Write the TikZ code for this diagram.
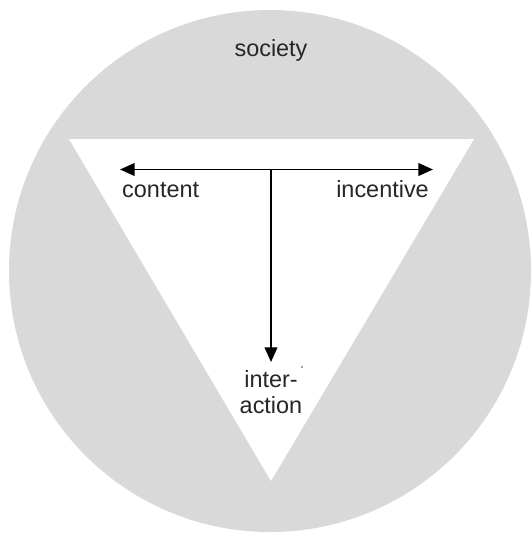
\documentclass[tikz,border=0pt]{standalone}
\usepackage{fontspec}
\setmainfont{Liberation Sans}
\usetikzlibrary{arrows.meta,positioning}

\begin{document}
\begin{tikzpicture}[
    x=0.03cm, y=-0.03cm,
    field/.style={fill=gray!30, draw=none},
    word/.style={font=\fontsize{20}{22.5}\selectfont, text=black!85, inner sep=0pt},
    link/.style={-{Triangle[length=4.4mm, width=3.8mm]}, line width=1.7pt},
  ]
  \useasboundingbox (0,0) rectangle (531,533);

  % Society circle with the inner triangle
  \fill[field] (270,271) circle (261);
  \fill[white] (69,139) -- (474,139) -- (271,481) -- cycle;

  % Arrow ends
  \coordinate (hub)   at (271,169.5);
  \coordinate (west)  at (120,169.5);
  \coordinate (east)  at (433,169.5);
  \coordinate (south) at (271,362);

  % Arrows
  \draw[link] (hub) -- (west);
  \draw[link] (hub) -- (east);
  \draw[link] (hub) -- (south);

  % Labels
  \node[word, anchor=base]      (society)     at (271,56)  {society};
  \node[word, anchor=base west] (content)     at (122,197) {content};
  \node[word, anchor=base east] (incentive)   at (429,197) {incentive};
  \node[word, align=center, anchor=north] (interaction) at (271,370) {inter-\\action};
  \fill[black!70] (302,367) circle (0.8);
\end{tikzpicture}
\end{document}
